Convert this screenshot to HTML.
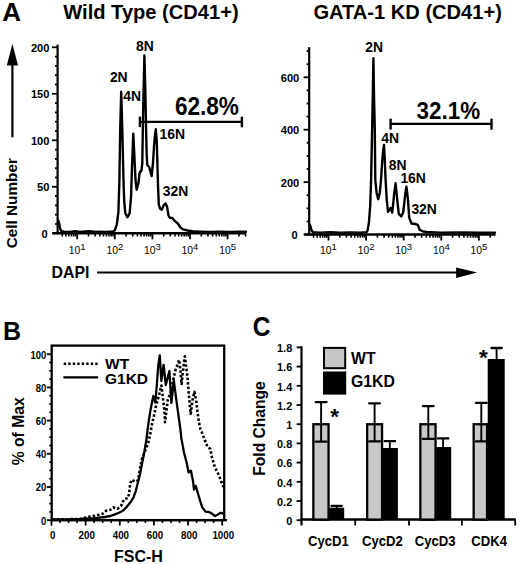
<!DOCTYPE html>
<html><head><meta charset="utf-8"><style>
html,body{margin:0;padding:0;background:#fff;overflow:hidden;width:520px;height:564px;}
svg{display:block;}
text{font-family:"Liberation Sans", sans-serif;fill:#000;}
</style></head><body>
<svg width="520" height="564" viewBox="0 0 520 564">
<rect width="520" height="564" fill="#fff"/>
<text transform="translate(2.2,20.9) scale(1.03,1)" font-size="25.3" text-anchor="start" font-weight="bold">A</text>
<text x="63.3" y="18.6" font-size="20.1" text-anchor="start" font-weight="bold" >Wild Type (CD41+)</text>
<text x="313.4" y="18.6" font-size="20.1" text-anchor="start" font-weight="bold" >GATA-1 KD (CD41+)</text>
<polygon points="12.4,43.7 6.8,65.4 18,65.4" fill="#000"/>
<line x1="12.40" y1="64.00" x2="12.40" y2="137.30" stroke="#000" stroke-width="2.2" />
<text transform="translate(17,203.2) rotate(-90)" font-size="15.3" text-anchor="middle" font-weight="bold">Cell Number</text>
<text transform="translate(51.6,277.6) scale(1,1.08)" font-size="15.8" text-anchor="start" font-weight="bold">DAPI</text>
<line x1="97.00" y1="272.50" x2="458.00" y2="272.50" stroke="#000" stroke-width="2.2" />
<polygon points="477.2,272.5 456.1,267.4 456.1,277.9" fill="#000"/>
<line x1="57.60" y1="44.60" x2="57.60" y2="234.30" stroke="#000" stroke-width="2.2" />
<line x1="52.60" y1="233.30" x2="246.00" y2="233.30" stroke="#000" stroke-width="2.4" />
<line x1="52.00" y1="233.30" x2="57.60" y2="233.30" stroke="#000" stroke-width="1.8" />
<text transform="translate(47.6,237.70000000000002) scale(1.05,1)" font-size="10.6" text-anchor="end" font-weight="bold">0</text>
<line x1="55.00" y1="224.00" x2="57.60" y2="224.00" stroke="#000" stroke-width="1.8" />
<line x1="55.00" y1="214.70" x2="57.60" y2="214.70" stroke="#000" stroke-width="1.8" />
<line x1="55.00" y1="205.40" x2="57.60" y2="205.40" stroke="#000" stroke-width="1.8" />
<line x1="55.00" y1="196.10" x2="57.60" y2="196.10" stroke="#000" stroke-width="1.8" />
<line x1="52.00" y1="186.80" x2="57.60" y2="186.80" stroke="#000" stroke-width="1.8" />
<text transform="translate(49.5,191.20000000000002) scale(1.05,1)" font-size="10.6" text-anchor="end" font-weight="bold">50</text>
<line x1="55.00" y1="177.50" x2="57.60" y2="177.50" stroke="#000" stroke-width="1.8" />
<line x1="55.00" y1="168.20" x2="57.60" y2="168.20" stroke="#000" stroke-width="1.8" />
<line x1="55.00" y1="158.90" x2="57.60" y2="158.90" stroke="#000" stroke-width="1.8" />
<line x1="55.00" y1="149.60" x2="57.60" y2="149.60" stroke="#000" stroke-width="1.8" />
<line x1="52.00" y1="140.30" x2="57.60" y2="140.30" stroke="#000" stroke-width="1.8" />
<text transform="translate(49.5,144.70000000000002) scale(1.05,1)" font-size="10.6" text-anchor="end" font-weight="bold">100</text>
<line x1="55.00" y1="131.00" x2="57.60" y2="131.00" stroke="#000" stroke-width="1.8" />
<line x1="55.00" y1="121.70" x2="57.60" y2="121.70" stroke="#000" stroke-width="1.8" />
<line x1="55.00" y1="112.40" x2="57.60" y2="112.40" stroke="#000" stroke-width="1.8" />
<line x1="55.00" y1="103.10" x2="57.60" y2="103.10" stroke="#000" stroke-width="1.8" />
<line x1="52.00" y1="93.80" x2="57.60" y2="93.80" stroke="#000" stroke-width="1.8" />
<text transform="translate(49.5,98.20000000000002) scale(1.05,1)" font-size="10.6" text-anchor="end" font-weight="bold">150</text>
<line x1="55.00" y1="84.50" x2="57.60" y2="84.50" stroke="#000" stroke-width="1.8" />
<line x1="55.00" y1="75.20" x2="57.60" y2="75.20" stroke="#000" stroke-width="1.8" />
<line x1="55.00" y1="65.90" x2="57.60" y2="65.90" stroke="#000" stroke-width="1.8" />
<line x1="55.00" y1="56.60" x2="57.60" y2="56.60" stroke="#000" stroke-width="1.8" />
<line x1="52.00" y1="47.30" x2="57.60" y2="47.30" stroke="#000" stroke-width="1.8" />
<text transform="translate(49.5,51.70000000000001) scale(1.05,1)" font-size="10.6" text-anchor="end" font-weight="bold">200</text>
<line x1="62.24" y1="233.30" x2="62.24" y2="236.50" stroke="#000" stroke-width="1.6" />
<line x1="65.88" y1="233.30" x2="65.88" y2="236.50" stroke="#000" stroke-width="1.6" />
<line x1="68.86" y1="233.30" x2="68.86" y2="236.50" stroke="#000" stroke-width="1.6" />
<line x1="71.38" y1="233.30" x2="71.38" y2="236.50" stroke="#000" stroke-width="1.6" />
<line x1="73.56" y1="233.30" x2="73.56" y2="236.50" stroke="#000" stroke-width="1.6" />
<line x1="75.48" y1="233.30" x2="75.48" y2="236.50" stroke="#000" stroke-width="1.6" />
<line x1="77.20" y1="233.30" x2="77.20" y2="239.30" stroke="#000" stroke-width="1.8" />
<line x1="88.52" y1="233.30" x2="88.52" y2="236.50" stroke="#000" stroke-width="1.6" />
<line x1="95.14" y1="233.30" x2="95.14" y2="236.50" stroke="#000" stroke-width="1.6" />
<line x1="99.84" y1="233.30" x2="99.84" y2="236.50" stroke="#000" stroke-width="1.6" />
<line x1="103.48" y1="233.30" x2="103.48" y2="236.50" stroke="#000" stroke-width="1.6" />
<line x1="106.46" y1="233.30" x2="106.46" y2="236.50" stroke="#000" stroke-width="1.6" />
<line x1="108.98" y1="233.30" x2="108.98" y2="236.50" stroke="#000" stroke-width="1.6" />
<line x1="111.16" y1="233.30" x2="111.16" y2="236.50" stroke="#000" stroke-width="1.6" />
<line x1="113.08" y1="233.30" x2="113.08" y2="236.50" stroke="#000" stroke-width="1.6" />
<text x="77.20" y="253.6" font-size="10.3" text-anchor="middle">10<tspan font-size="9.5" dy="-3.2">1</tspan></text>
<line x1="114.80" y1="233.30" x2="114.80" y2="239.30" stroke="#000" stroke-width="1.8" />
<line x1="126.12" y1="233.30" x2="126.12" y2="236.50" stroke="#000" stroke-width="1.6" />
<line x1="132.74" y1="233.30" x2="132.74" y2="236.50" stroke="#000" stroke-width="1.6" />
<line x1="137.44" y1="233.30" x2="137.44" y2="236.50" stroke="#000" stroke-width="1.6" />
<line x1="141.08" y1="233.30" x2="141.08" y2="236.50" stroke="#000" stroke-width="1.6" />
<line x1="144.06" y1="233.30" x2="144.06" y2="236.50" stroke="#000" stroke-width="1.6" />
<line x1="146.58" y1="233.30" x2="146.58" y2="236.50" stroke="#000" stroke-width="1.6" />
<line x1="148.76" y1="233.30" x2="148.76" y2="236.50" stroke="#000" stroke-width="1.6" />
<line x1="150.68" y1="233.30" x2="150.68" y2="236.50" stroke="#000" stroke-width="1.6" />
<text x="114.80" y="253.6" font-size="10.3" text-anchor="middle">10<tspan font-size="9.5" dy="-3.2">2</tspan></text>
<line x1="152.40" y1="233.30" x2="152.40" y2="239.30" stroke="#000" stroke-width="1.8" />
<line x1="163.72" y1="233.30" x2="163.72" y2="236.50" stroke="#000" stroke-width="1.6" />
<line x1="170.34" y1="233.30" x2="170.34" y2="236.50" stroke="#000" stroke-width="1.6" />
<line x1="175.04" y1="233.30" x2="175.04" y2="236.50" stroke="#000" stroke-width="1.6" />
<line x1="178.68" y1="233.30" x2="178.68" y2="236.50" stroke="#000" stroke-width="1.6" />
<line x1="181.66" y1="233.30" x2="181.66" y2="236.50" stroke="#000" stroke-width="1.6" />
<line x1="184.18" y1="233.30" x2="184.18" y2="236.50" stroke="#000" stroke-width="1.6" />
<line x1="186.36" y1="233.30" x2="186.36" y2="236.50" stroke="#000" stroke-width="1.6" />
<line x1="188.28" y1="233.30" x2="188.28" y2="236.50" stroke="#000" stroke-width="1.6" />
<text x="152.40" y="253.6" font-size="10.3" text-anchor="middle">10<tspan font-size="9.5" dy="-3.2">3</tspan></text>
<line x1="190.00" y1="233.30" x2="190.00" y2="239.30" stroke="#000" stroke-width="1.8" />
<line x1="201.32" y1="233.30" x2="201.32" y2="236.50" stroke="#000" stroke-width="1.6" />
<line x1="207.94" y1="233.30" x2="207.94" y2="236.50" stroke="#000" stroke-width="1.6" />
<line x1="212.64" y1="233.30" x2="212.64" y2="236.50" stroke="#000" stroke-width="1.6" />
<line x1="216.28" y1="233.30" x2="216.28" y2="236.50" stroke="#000" stroke-width="1.6" />
<line x1="219.26" y1="233.30" x2="219.26" y2="236.50" stroke="#000" stroke-width="1.6" />
<line x1="221.78" y1="233.30" x2="221.78" y2="236.50" stroke="#000" stroke-width="1.6" />
<line x1="223.96" y1="233.30" x2="223.96" y2="236.50" stroke="#000" stroke-width="1.6" />
<line x1="225.88" y1="233.30" x2="225.88" y2="236.50" stroke="#000" stroke-width="1.6" />
<text x="190.00" y="253.6" font-size="10.3" text-anchor="middle">10<tspan font-size="9.5" dy="-3.2">4</tspan></text>
<line x1="227.60" y1="233.30" x2="227.60" y2="239.30" stroke="#000" stroke-width="1.8" />
<line x1="238.92" y1="233.30" x2="238.92" y2="236.50" stroke="#000" stroke-width="1.6" />
<line x1="245.54" y1="233.30" x2="245.54" y2="236.50" stroke="#000" stroke-width="1.6" />
<text x="227.60" y="253.6" font-size="10.3" text-anchor="middle">10<tspan font-size="9.5" dy="-3.2">5</tspan></text>
<line x1="309.20" y1="47.20" x2="309.20" y2="235.50" stroke="#000" stroke-width="2.2" />
<line x1="304.20" y1="234.50" x2="495.60" y2="234.50" stroke="#000" stroke-width="2.4" />
<line x1="303.60" y1="234.50" x2="309.20" y2="234.50" stroke="#000" stroke-width="1.8" />
<text transform="translate(297.7,238.9) scale(1.05,1)" font-size="10.6" text-anchor="end" font-weight="bold">0</text>
<line x1="306.60" y1="221.40" x2="309.20" y2="221.40" stroke="#000" stroke-width="1.8" />
<line x1="306.60" y1="208.30" x2="309.20" y2="208.30" stroke="#000" stroke-width="1.8" />
<line x1="306.60" y1="195.20" x2="309.20" y2="195.20" stroke="#000" stroke-width="1.8" />
<line x1="303.60" y1="182.10" x2="309.20" y2="182.10" stroke="#000" stroke-width="1.8" />
<text transform="translate(299.3,186.5) scale(1.05,1)" font-size="10.6" text-anchor="end" font-weight="bold">200</text>
<line x1="306.60" y1="169.00" x2="309.20" y2="169.00" stroke="#000" stroke-width="1.8" />
<line x1="306.60" y1="155.90" x2="309.20" y2="155.90" stroke="#000" stroke-width="1.8" />
<line x1="306.60" y1="142.80" x2="309.20" y2="142.80" stroke="#000" stroke-width="1.8" />
<line x1="303.60" y1="129.70" x2="309.20" y2="129.70" stroke="#000" stroke-width="1.8" />
<text transform="translate(299.3,134.1) scale(1.05,1)" font-size="10.6" text-anchor="end" font-weight="bold">400</text>
<line x1="306.60" y1="116.60" x2="309.20" y2="116.60" stroke="#000" stroke-width="1.8" />
<line x1="306.60" y1="103.50" x2="309.20" y2="103.50" stroke="#000" stroke-width="1.8" />
<line x1="306.60" y1="90.40" x2="309.20" y2="90.40" stroke="#000" stroke-width="1.8" />
<line x1="303.60" y1="77.30" x2="309.20" y2="77.30" stroke="#000" stroke-width="1.8" />
<text transform="translate(299.3,81.69999999999999) scale(1.05,1)" font-size="10.6" text-anchor="end" font-weight="bold">600</text>
<line x1="306.60" y1="64.20" x2="309.20" y2="64.20" stroke="#000" stroke-width="1.8" />
<line x1="306.60" y1="51.10" x2="309.20" y2="51.10" stroke="#000" stroke-width="1.8" />
<line x1="313.54" y1="234.50" x2="313.54" y2="237.70" stroke="#000" stroke-width="1.6" />
<line x1="317.18" y1="234.50" x2="317.18" y2="237.70" stroke="#000" stroke-width="1.6" />
<line x1="320.16" y1="234.50" x2="320.16" y2="237.70" stroke="#000" stroke-width="1.6" />
<line x1="322.68" y1="234.50" x2="322.68" y2="237.70" stroke="#000" stroke-width="1.6" />
<line x1="324.86" y1="234.50" x2="324.86" y2="237.70" stroke="#000" stroke-width="1.6" />
<line x1="326.78" y1="234.50" x2="326.78" y2="237.70" stroke="#000" stroke-width="1.6" />
<line x1="328.50" y1="234.50" x2="328.50" y2="240.50" stroke="#000" stroke-width="1.8" />
<line x1="339.82" y1="234.50" x2="339.82" y2="237.70" stroke="#000" stroke-width="1.6" />
<line x1="346.44" y1="234.50" x2="346.44" y2="237.70" stroke="#000" stroke-width="1.6" />
<line x1="351.14" y1="234.50" x2="351.14" y2="237.70" stroke="#000" stroke-width="1.6" />
<line x1="354.78" y1="234.50" x2="354.78" y2="237.70" stroke="#000" stroke-width="1.6" />
<line x1="357.76" y1="234.50" x2="357.76" y2="237.70" stroke="#000" stroke-width="1.6" />
<line x1="360.28" y1="234.50" x2="360.28" y2="237.70" stroke="#000" stroke-width="1.6" />
<line x1="362.46" y1="234.50" x2="362.46" y2="237.70" stroke="#000" stroke-width="1.6" />
<line x1="364.38" y1="234.50" x2="364.38" y2="237.70" stroke="#000" stroke-width="1.6" />
<text x="328.50" y="253.6" font-size="10.3" text-anchor="middle">10<tspan font-size="9.5" dy="-3.2">1</tspan></text>
<line x1="366.10" y1="234.50" x2="366.10" y2="240.50" stroke="#000" stroke-width="1.8" />
<line x1="377.42" y1="234.50" x2="377.42" y2="237.70" stroke="#000" stroke-width="1.6" />
<line x1="384.04" y1="234.50" x2="384.04" y2="237.70" stroke="#000" stroke-width="1.6" />
<line x1="388.74" y1="234.50" x2="388.74" y2="237.70" stroke="#000" stroke-width="1.6" />
<line x1="392.38" y1="234.50" x2="392.38" y2="237.70" stroke="#000" stroke-width="1.6" />
<line x1="395.36" y1="234.50" x2="395.36" y2="237.70" stroke="#000" stroke-width="1.6" />
<line x1="397.88" y1="234.50" x2="397.88" y2="237.70" stroke="#000" stroke-width="1.6" />
<line x1="400.06" y1="234.50" x2="400.06" y2="237.70" stroke="#000" stroke-width="1.6" />
<line x1="401.98" y1="234.50" x2="401.98" y2="237.70" stroke="#000" stroke-width="1.6" />
<text x="366.10" y="253.6" font-size="10.3" text-anchor="middle">10<tspan font-size="9.5" dy="-3.2">2</tspan></text>
<line x1="403.70" y1="234.50" x2="403.70" y2="240.50" stroke="#000" stroke-width="1.8" />
<line x1="415.02" y1="234.50" x2="415.02" y2="237.70" stroke="#000" stroke-width="1.6" />
<line x1="421.64" y1="234.50" x2="421.64" y2="237.70" stroke="#000" stroke-width="1.6" />
<line x1="426.34" y1="234.50" x2="426.34" y2="237.70" stroke="#000" stroke-width="1.6" />
<line x1="429.98" y1="234.50" x2="429.98" y2="237.70" stroke="#000" stroke-width="1.6" />
<line x1="432.96" y1="234.50" x2="432.96" y2="237.70" stroke="#000" stroke-width="1.6" />
<line x1="435.48" y1="234.50" x2="435.48" y2="237.70" stroke="#000" stroke-width="1.6" />
<line x1="437.66" y1="234.50" x2="437.66" y2="237.70" stroke="#000" stroke-width="1.6" />
<line x1="439.58" y1="234.50" x2="439.58" y2="237.70" stroke="#000" stroke-width="1.6" />
<text x="403.70" y="253.6" font-size="10.3" text-anchor="middle">10<tspan font-size="9.5" dy="-3.2">3</tspan></text>
<line x1="441.30" y1="234.50" x2="441.30" y2="240.50" stroke="#000" stroke-width="1.8" />
<line x1="452.62" y1="234.50" x2="452.62" y2="237.70" stroke="#000" stroke-width="1.6" />
<line x1="459.24" y1="234.50" x2="459.24" y2="237.70" stroke="#000" stroke-width="1.6" />
<line x1="463.94" y1="234.50" x2="463.94" y2="237.70" stroke="#000" stroke-width="1.6" />
<line x1="467.58" y1="234.50" x2="467.58" y2="237.70" stroke="#000" stroke-width="1.6" />
<line x1="470.56" y1="234.50" x2="470.56" y2="237.70" stroke="#000" stroke-width="1.6" />
<line x1="473.08" y1="234.50" x2="473.08" y2="237.70" stroke="#000" stroke-width="1.6" />
<line x1="475.26" y1="234.50" x2="475.26" y2="237.70" stroke="#000" stroke-width="1.6" />
<line x1="477.18" y1="234.50" x2="477.18" y2="237.70" stroke="#000" stroke-width="1.6" />
<text x="441.30" y="253.6" font-size="10.3" text-anchor="middle">10<tspan font-size="9.5" dy="-3.2">4</tspan></text>
<line x1="478.90" y1="234.50" x2="478.90" y2="240.50" stroke="#000" stroke-width="1.8" />
<line x1="490.22" y1="234.50" x2="490.22" y2="237.70" stroke="#000" stroke-width="1.6" />
<text x="478.90" y="253.6" font-size="10.3" text-anchor="middle">10<tspan font-size="9.5" dy="-3.2">5</tspan></text>
<polyline points="58.30,220.50 59.30,224.00 60.00,228.50 61.50,231.20 64.00,231.60 70.00,231.90 75.00,231.20 80.00,232.00 85.00,231.50 90.00,231.20 95.00,231.90 100.00,231.70 105.00,232.00 110.00,231.70 113.00,231.60 114.70,230.50 116.80,224.70 118.40,211.90 119.40,180.00 120.20,130.00 121.20,91.80 122.30,130.00 123.50,180.00 124.20,201.30 125.30,213.00 127.40,217.20 129.60,213.50 131.10,196.00 131.90,170.00 132.70,150.00 133.30,133.60 134.10,150.00 134.80,165.00 135.50,180.00 136.70,189.80 138.60,182.10 139.40,174.00 140.30,171.50 141.50,170.50 142.30,163.00 142.90,125.00 143.70,85.00 144.40,55.50 145.20,85.00 146.00,125.00 146.70,155.00 147.30,165.00 149.20,167.00 150.50,172.00 151.60,176.00 153.00,163.00 154.00,146.30 155.00,135.00 155.80,129.30 156.70,140.00 157.20,157.00 158.00,185.00 158.80,204.50 160.00,208.50 161.70,209.80 164.10,204.60 165.60,203.50 167.00,206.50 168.50,215.50 169.90,217.80 172.30,218.00 174.20,220.30 177.60,223.30 180.50,227.50 182.90,229.30 187.70,230.50 192.50,231.30 200.00,231.60 210.00,231.90 220.00,231.60 230.00,232.00 240.00,231.80 246.00,231.80" fill="none" stroke="#000" stroke-width="2.4" stroke-linejoin="round" stroke-linecap="round" />
<polyline points="309.80,224.80 310.70,227.00 311.50,230.20 313.00,232.30 320.00,232.60 330.00,232.30 340.00,232.70 350.00,232.40 360.00,232.70 366.40,232.30 367.70,230.10 369.00,221.90 370.20,205.40 371.10,180.00 372.10,130.00 372.80,95.00 373.40,58.20 374.00,95.00 374.80,130.00 375.30,180.00 376.60,192.70 378.20,199.20 379.80,192.70 381.00,180.00 382.30,160.00 383.20,150.00 384.00,144.90 384.80,160.00 385.60,180.00 386.70,199.00 388.00,211.90 390.60,207.90 392.20,212.50 393.30,203.00 394.00,195.20 395.60,183.30 396.90,196.50 398.00,207.00 398.80,213.80 401.30,216.30 403.20,212.50 404.30,203.00 405.10,195.20 406.40,186.70 407.90,199.00 409.20,217.60 411.50,223.50 415.30,224.00 417.80,224.80 419.70,229.80 422.90,231.40 426.70,232.00 440.00,232.60 460.00,232.40 480.00,232.70 495.00,232.60" fill="none" stroke="#000" stroke-width="2.4" stroke-linejoin="round" stroke-linecap="round" />
<text x="136.1" y="51.1" font-size="13.9" text-anchor="start" font-weight="bold" >8N</text>
<text x="109.9" y="81.9" font-size="13.9" text-anchor="start" font-weight="bold" >2N</text>
<text x="123.3" y="100.6" font-size="13.9" text-anchor="start" font-weight="bold" >4N</text>
<text x="159.5" y="138.75" font-size="13.9" text-anchor="start" font-weight="bold" >16N</text>
<text x="162.8" y="195.6" font-size="13.9" text-anchor="start" font-weight="bold" >32N</text>
<text x="365.2" y="51.6" font-size="13.9" text-anchor="start" font-weight="bold" >2N</text>
<text x="381.3" y="142.5" font-size="13.9" text-anchor="start" font-weight="bold" >4N</text>
<text x="388.7" y="169.8" font-size="13.9" text-anchor="start" font-weight="bold" >8N</text>
<text x="400.4" y="182.9" font-size="13.9" text-anchor="start" font-weight="bold" >16N</text>
<text x="411.4" y="214.1" font-size="13.9" text-anchor="start" font-weight="bold" >32N</text>
<line x1="139.90" y1="116.60" x2="139.90" y2="127.10" stroke="#000" stroke-width="2.4" />
<line x1="139.90" y1="121.90" x2="241.90" y2="121.90" stroke="#000" stroke-width="2.3" />
<line x1="241.90" y1="116.70" x2="241.90" y2="127.30" stroke="#000" stroke-width="2.4" />
<text transform="translate(174.9,114.8) scale(1,1.12)" font-size="22.6" text-anchor="start" font-weight="bold">62.8%</text>
<line x1="390.60" y1="118.70" x2="390.60" y2="129.50" stroke="#000" stroke-width="2.4" />
<line x1="390.60" y1="123.90" x2="491.50" y2="123.90" stroke="#000" stroke-width="2.3" />
<line x1="491.50" y1="118.70" x2="491.50" y2="129.70" stroke="#000" stroke-width="2.4" />
<text transform="translate(416.6,119.4) scale(1,1.1)" font-size="22.4" text-anchor="start" font-weight="bold">32.1%</text>
<text x="3.0" y="339.5" font-size="25" text-anchor="start" font-weight="bold" >B</text>
<rect x="51.7" y="345.6" width="172.5" height="174.5" fill="none" stroke="#000" stroke-width="2.3"/>
<line x1="51.70" y1="520.10" x2="227.00" y2="520.10" stroke="#000" stroke-width="2.3" />
<line x1="46.90" y1="520.20" x2="51.70" y2="520.20" stroke="#000" stroke-width="1.8" />
<text transform="translate(46.4,524.6) scale(0.95,1)" font-size="10" text-anchor="end" font-weight="bold">0</text>
<line x1="49.20" y1="511.90" x2="51.70" y2="511.90" stroke="#000" stroke-width="1.6" />
<line x1="49.20" y1="503.60" x2="51.70" y2="503.60" stroke="#000" stroke-width="1.6" />
<line x1="49.20" y1="495.30" x2="51.70" y2="495.30" stroke="#000" stroke-width="1.6" />
<line x1="46.90" y1="487.00" x2="51.70" y2="487.00" stroke="#000" stroke-width="1.8" />
<text transform="translate(46.4,491.40000000000003) scale(0.95,1)" font-size="10" text-anchor="end" font-weight="bold">20</text>
<line x1="49.20" y1="478.70" x2="51.70" y2="478.70" stroke="#000" stroke-width="1.6" />
<line x1="49.20" y1="470.40" x2="51.70" y2="470.40" stroke="#000" stroke-width="1.6" />
<line x1="49.20" y1="462.10" x2="51.70" y2="462.10" stroke="#000" stroke-width="1.6" />
<line x1="46.90" y1="453.80" x2="51.70" y2="453.80" stroke="#000" stroke-width="1.8" />
<text transform="translate(46.4,458.20000000000005) scale(0.95,1)" font-size="10" text-anchor="end" font-weight="bold">40</text>
<line x1="49.20" y1="445.50" x2="51.70" y2="445.50" stroke="#000" stroke-width="1.6" />
<line x1="49.20" y1="437.20" x2="51.70" y2="437.20" stroke="#000" stroke-width="1.6" />
<line x1="49.20" y1="428.90" x2="51.70" y2="428.90" stroke="#000" stroke-width="1.6" />
<line x1="46.90" y1="420.60" x2="51.70" y2="420.60" stroke="#000" stroke-width="1.8" />
<text transform="translate(46.4,425.0) scale(0.95,1)" font-size="10" text-anchor="end" font-weight="bold">60</text>
<line x1="49.20" y1="412.30" x2="51.70" y2="412.30" stroke="#000" stroke-width="1.6" />
<line x1="49.20" y1="404.00" x2="51.70" y2="404.00" stroke="#000" stroke-width="1.6" />
<line x1="49.20" y1="395.70" x2="51.70" y2="395.70" stroke="#000" stroke-width="1.6" />
<line x1="46.90" y1="387.40" x2="51.70" y2="387.40" stroke="#000" stroke-width="1.8" />
<text transform="translate(46.4,391.80000000000007) scale(0.95,1)" font-size="10" text-anchor="end" font-weight="bold">80</text>
<line x1="49.20" y1="379.10" x2="51.70" y2="379.10" stroke="#000" stroke-width="1.6" />
<line x1="49.20" y1="370.80" x2="51.70" y2="370.80" stroke="#000" stroke-width="1.6" />
<line x1="49.20" y1="362.50" x2="51.70" y2="362.50" stroke="#000" stroke-width="1.6" />
<line x1="46.90" y1="354.20" x2="51.70" y2="354.20" stroke="#000" stroke-width="1.8" />
<text transform="translate(46.4,358.6) scale(0.95,1)" font-size="10" text-anchor="end" font-weight="bold">100</text>
<line x1="51.50" y1="520.10" x2="51.50" y2="525.60" stroke="#000" stroke-width="1.8" />
<text transform="translate(52.6,538.7) scale(1,1.03)" font-size="9.8" text-anchor="middle" font-weight="bold">0</text>
<line x1="60.03" y1="520.10" x2="60.03" y2="523.00" stroke="#000" stroke-width="1.6" />
<line x1="68.57" y1="520.10" x2="68.57" y2="523.00" stroke="#000" stroke-width="1.6" />
<line x1="77.10" y1="520.10" x2="77.10" y2="523.00" stroke="#000" stroke-width="1.6" />
<line x1="85.64" y1="520.10" x2="85.64" y2="525.60" stroke="#000" stroke-width="1.8" />
<text transform="translate(86.74,538.7) scale(1,1.03)" font-size="9.8" text-anchor="middle" font-weight="bold">200</text>
<line x1="94.17" y1="520.10" x2="94.17" y2="523.00" stroke="#000" stroke-width="1.6" />
<line x1="102.71" y1="520.10" x2="102.71" y2="523.00" stroke="#000" stroke-width="1.6" />
<line x1="111.25" y1="520.10" x2="111.25" y2="523.00" stroke="#000" stroke-width="1.6" />
<line x1="119.78" y1="520.10" x2="119.78" y2="525.60" stroke="#000" stroke-width="1.8" />
<text transform="translate(120.88,538.7) scale(1,1.03)" font-size="9.8" text-anchor="middle" font-weight="bold">400</text>
<line x1="128.31" y1="520.10" x2="128.31" y2="523.00" stroke="#000" stroke-width="1.6" />
<line x1="136.85" y1="520.10" x2="136.85" y2="523.00" stroke="#000" stroke-width="1.6" />
<line x1="145.38" y1="520.10" x2="145.38" y2="523.00" stroke="#000" stroke-width="1.6" />
<line x1="153.92" y1="520.10" x2="153.92" y2="525.60" stroke="#000" stroke-width="1.8" />
<text transform="translate(155.01999999999998,538.7) scale(1,1.03)" font-size="9.8" text-anchor="middle" font-weight="bold">600</text>
<line x1="162.45" y1="520.10" x2="162.45" y2="523.00" stroke="#000" stroke-width="1.6" />
<line x1="170.99" y1="520.10" x2="170.99" y2="523.00" stroke="#000" stroke-width="1.6" />
<line x1="179.53" y1="520.10" x2="179.53" y2="523.00" stroke="#000" stroke-width="1.6" />
<line x1="188.06" y1="520.10" x2="188.06" y2="525.60" stroke="#000" stroke-width="1.8" />
<text transform="translate(189.16,538.7) scale(1,1.03)" font-size="9.8" text-anchor="middle" font-weight="bold">800</text>
<line x1="196.59" y1="520.10" x2="196.59" y2="523.00" stroke="#000" stroke-width="1.6" />
<line x1="205.13" y1="520.10" x2="205.13" y2="523.00" stroke="#000" stroke-width="1.6" />
<line x1="213.66" y1="520.10" x2="213.66" y2="523.00" stroke="#000" stroke-width="1.6" />
<line x1="222.20" y1="520.10" x2="222.20" y2="525.60" stroke="#000" stroke-width="1.8" />
<text transform="translate(223.29999999999998,538.7) scale(1,1.03)" font-size="9.8" text-anchor="middle" font-weight="bold">1000</text>
<text x="138.4" y="561.7" font-size="16" text-anchor="middle" font-weight="bold" >FSC-H</text>
<text transform="translate(24.4,431.3) rotate(-90)" font-size="15.7" text-anchor="middle" font-weight="bold">% of Max</text>
<line x1="63.70" y1="363.80" x2="97.80" y2="363.80" stroke="#000" stroke-width="2.5" stroke-dasharray="2.45 2.05"/>
<line x1="64.20" y1="377.30" x2="97.30" y2="377.30" stroke="#000" stroke-width="2.2" stroke-linecap="round"/>
<text x="105" y="369.3" font-size="15.5" text-anchor="start" font-weight="bold" >WT</text>
<text x="105" y="384.2" font-size="15.5" text-anchor="start" font-weight="bold" >G1KD</text>
<polyline points="52.50,519.30 70.00,519.30 80.00,519.00 88.50,518.50 95.00,518.20 104.60,517.00 110.40,516.00 114.20,514.60 119.00,512.70 122.90,510.80 126.70,506.90 130.60,502.10 133.50,497.30 135.90,490.60 137.30,484.80 138.80,479.00 140.30,472.70 142.60,460.70 144.10,453.10 146.40,439.60 147.90,427.50 148.90,420.00 150.50,410.00 153.30,396.00 155.30,402.50 156.80,385.00 158.30,365.00 159.80,355.30 161.30,381.00 163.60,365.00 165.80,385.00 169.40,371.00 171.40,403.00 173.80,380.50 176.30,399.60 178.40,415.20 180.50,430.00 181.30,438.10 184.00,452.50 186.80,463.40 188.60,472.40 190.90,470.60 193.10,481.50 194.00,489.50 195.80,486.00 197.60,492.30 200.30,501.40 202.20,507.20 205.40,511.60 209.00,512.00 211.80,513.60 215.00,516.00 217.40,514.80 220.60,512.80 222.60,513.20 224.00,514.80" fill="none" stroke="#000" stroke-width="2.3" stroke-linejoin="round" stroke-linecap="round" />
<polyline points="52.50,519.50 80.00,519.00 90.00,516.60 96.20,515.50 102.70,513.70 106.10,510.80 110.40,509.80 113.30,507.40 117.60,508.80 121.00,506.00 122.90,501.60 124.80,498.80 127.70,498.30 129.10,494.00 129.60,489.10 130.10,484.30 131.50,479.80 135.10,481.70 138.10,480.20 139.60,471.20 141.80,459.20 144.80,451.60 147.90,444.10 150.10,435.10 151.60,426.00 153.90,416.00 155.80,406.70 158.60,396.80 161.40,385.50 164.30,409.60 165.00,422.30 167.80,399.60 170.70,392.60 173.50,378.40 175.50,369.90 177.70,364.20 179.10,359.90 180.50,371.30 181.60,384.00 183.30,368.40 184.80,356.40 186.20,367.00 187.60,378.40 188.70,392.60 189.70,403.90 190.70,413.80 192.60,399.60 194.40,391.80 196.10,399.60 197.20,409.60 198.70,420.90 200.40,429.40 201.20,430.80 204.80,439.90 207.50,447.10 210.30,448.90 212.10,458.00 214.80,467.00 218.40,474.20 222.00,483.30 223.50,487.00" fill="none" stroke="#000" stroke-width="2.6" stroke-linejoin="round" stroke-linecap="butt" stroke-dasharray="2.5 2.0"/>
<text transform="translate(252.8,336.1) scale(1,1.1)" font-size="24.6" text-anchor="start" font-weight="bold">C</text>
<line x1="301.50" y1="346.20" x2="301.50" y2="525.50" stroke="#000" stroke-width="2.2" />
<line x1="300.50" y1="519.60" x2="515.80" y2="519.60" stroke="#000" stroke-width="2.5" />
<line x1="296.60" y1="520.20" x2="301.50" y2="520.20" stroke="#000" stroke-width="1.8" />
<text x="292.2" y="525.0" font-size="10.9" text-anchor="end" font-weight="bold" >0</text>
<line x1="296.60" y1="501.00" x2="301.50" y2="501.00" stroke="#000" stroke-width="1.8" />
<text x="292.2" y="505.80000000000007" font-size="10.9" text-anchor="end" font-weight="bold" >0.2</text>
<line x1="296.60" y1="481.80" x2="301.50" y2="481.80" stroke="#000" stroke-width="1.8" />
<text x="292.2" y="486.6000000000001" font-size="10.9" text-anchor="end" font-weight="bold" >0.4</text>
<line x1="296.60" y1="462.60" x2="301.50" y2="462.60" stroke="#000" stroke-width="1.8" />
<text x="292.2" y="467.40000000000003" font-size="10.9" text-anchor="end" font-weight="bold" >0.6</text>
<line x1="296.60" y1="443.40" x2="301.50" y2="443.40" stroke="#000" stroke-width="1.8" />
<text x="292.2" y="448.20000000000005" font-size="10.9" text-anchor="end" font-weight="bold" >0.8</text>
<line x1="296.60" y1="424.20" x2="301.50" y2="424.20" stroke="#000" stroke-width="1.8" />
<text x="292.2" y="429.00000000000006" font-size="10.9" text-anchor="end" font-weight="bold" >1</text>
<line x1="296.60" y1="405.00" x2="301.50" y2="405.00" stroke="#000" stroke-width="1.8" />
<text x="292.2" y="409.80000000000007" font-size="10.9" text-anchor="end" font-weight="bold" >1.2</text>
<line x1="296.60" y1="385.80" x2="301.50" y2="385.80" stroke="#000" stroke-width="1.8" />
<text x="292.2" y="390.6000000000001" font-size="10.9" text-anchor="end" font-weight="bold" >1.4</text>
<line x1="296.60" y1="366.60" x2="301.50" y2="366.60" stroke="#000" stroke-width="1.8" />
<text x="292.2" y="371.40000000000003" font-size="10.9" text-anchor="end" font-weight="bold" >1.6</text>
<line x1="296.60" y1="347.40" x2="301.50" y2="347.40" stroke="#000" stroke-width="1.8" />
<text x="292.2" y="352.2000000000001" font-size="10.9" text-anchor="end" font-weight="bold" >1.8</text>
<line x1="355.20" y1="520.20" x2="355.20" y2="525.50" stroke="#000" stroke-width="1.8" />
<line x1="409.00" y1="520.20" x2="409.00" y2="525.50" stroke="#000" stroke-width="1.8" />
<line x1="461.90" y1="520.20" x2="461.90" y2="525.50" stroke="#000" stroke-width="1.8" />
<line x1="515.20" y1="520.20" x2="515.20" y2="525.50" stroke="#000" stroke-width="1.8" />
<text transform="translate(264.7,428.5) rotate(-90)" font-size="15.6" text-anchor="middle" font-weight="bold">Fold Change</text>
<rect x="313.35" y="424.25" width="15.20" height="95.35" fill="#c8c8c8" stroke="#000" stroke-width="2.3"/>
<line x1="321.10" y1="402.20" x2="321.10" y2="441.60" stroke="#000" stroke-width="1.9" />
<line x1="315.70" y1="402.20" x2="326.50" y2="402.20" stroke="#000" stroke-width="2.3" stroke-linecap="round"/>
<line x1="315.70" y1="441.60" x2="326.50" y2="441.60" stroke="#000" stroke-width="2.3" stroke-linecap="round"/>
<rect x="329.20" y="507.70" width="15.00" height="11.90" fill="#000"/>
<line x1="336.60" y1="505.80" x2="336.60" y2="508.20" stroke="#000" stroke-width="1.9" />
<line x1="331.40" y1="505.80" x2="341.80" y2="505.80" stroke="#000" stroke-width="2.3" stroke-linecap="round"/>
<rect x="367.15" y="424.25" width="14.90" height="95.35" fill="#c8c8c8" stroke="#000" stroke-width="2.3"/>
<line x1="374.60" y1="403.30" x2="374.60" y2="441.40" stroke="#000" stroke-width="1.9" />
<line x1="369.20" y1="403.30" x2="380.00" y2="403.30" stroke="#000" stroke-width="2.3" stroke-linecap="round"/>
<line x1="369.20" y1="441.40" x2="380.00" y2="441.40" stroke="#000" stroke-width="2.3" stroke-linecap="round"/>
<rect x="382.70" y="448.00" width="15.20" height="71.60" fill="#000"/>
<line x1="389.80" y1="441.20" x2="389.80" y2="448.50" stroke="#000" stroke-width="1.9" />
<line x1="384.60" y1="441.20" x2="395.00" y2="441.20" stroke="#000" stroke-width="2.3" stroke-linecap="round"/>
<rect x="420.35" y="424.25" width="15.20" height="95.35" fill="#c8c8c8" stroke="#000" stroke-width="2.3"/>
<line x1="428.30" y1="406.10" x2="428.30" y2="438.90" stroke="#000" stroke-width="1.9" />
<line x1="422.90" y1="406.10" x2="433.70" y2="406.10" stroke="#000" stroke-width="2.3" stroke-linecap="round"/>
<line x1="422.90" y1="438.90" x2="433.70" y2="438.90" stroke="#000" stroke-width="2.3" stroke-linecap="round"/>
<rect x="436.20" y="447.00" width="15.00" height="72.60" fill="#000"/>
<line x1="443.10" y1="438.40" x2="443.10" y2="447.50" stroke="#000" stroke-width="1.9" />
<line x1="437.90" y1="438.40" x2="448.30" y2="438.40" stroke="#000" stroke-width="2.3" stroke-linecap="round"/>
<rect x="473.65" y="424.25" width="13.40" height="95.35" fill="#c8c8c8" stroke="#000" stroke-width="2.3"/>
<line x1="481.30" y1="402.80" x2="481.30" y2="441.40" stroke="#000" stroke-width="1.9" />
<line x1="475.90" y1="402.80" x2="486.70" y2="402.80" stroke="#000" stroke-width="2.3" stroke-linecap="round"/>
<line x1="475.90" y1="441.40" x2="486.70" y2="441.40" stroke="#000" stroke-width="2.3" stroke-linecap="round"/>
<rect x="487.70" y="359.00" width="17.00" height="160.60" fill="#000"/>
<line x1="496.60" y1="348.00" x2="496.60" y2="359.50" stroke="#000" stroke-width="1.9" />
<line x1="491.40" y1="348.00" x2="501.80" y2="348.00" stroke="#000" stroke-width="2.3" stroke-linecap="round"/>
<text x="334.75" y="424.2" font-size="22.5" text-anchor="middle" font-weight="bold" >*</text>
<text x="483.4" y="364.6" font-size="22.5" text-anchor="middle" font-weight="bold" >*</text>
<rect x="324" y="347.9" width="21.2" height="20.3" fill="#c6c6c6" stroke="#000" stroke-width="2"/>
<rect x="323" y="371.5" width="23.2" height="23.1" fill="#000"/>
<text x="351" y="363.6" font-size="15.8" text-anchor="start" font-weight="bold" >WT</text>
<text x="351" y="386.8" font-size="15.8" text-anchor="start" font-weight="bold" >G1KD</text>
<text transform="translate(328.4,545.9) scale(1,1.05)" font-size="13.1" text-anchor="middle" font-weight="bold">CycD1</text>
<text transform="translate(382.3,545.9) scale(1,1.05)" font-size="13.1" text-anchor="middle" font-weight="bold">CycD2</text>
<text transform="translate(435.2,545.9) scale(1,1.05)" font-size="13.1" text-anchor="middle" font-weight="bold">CycD3</text>
<text transform="translate(489.1,545.9) scale(1,1.05)" font-size="13.1" text-anchor="middle" font-weight="bold">CDK4</text>
</svg>
</body></html>
